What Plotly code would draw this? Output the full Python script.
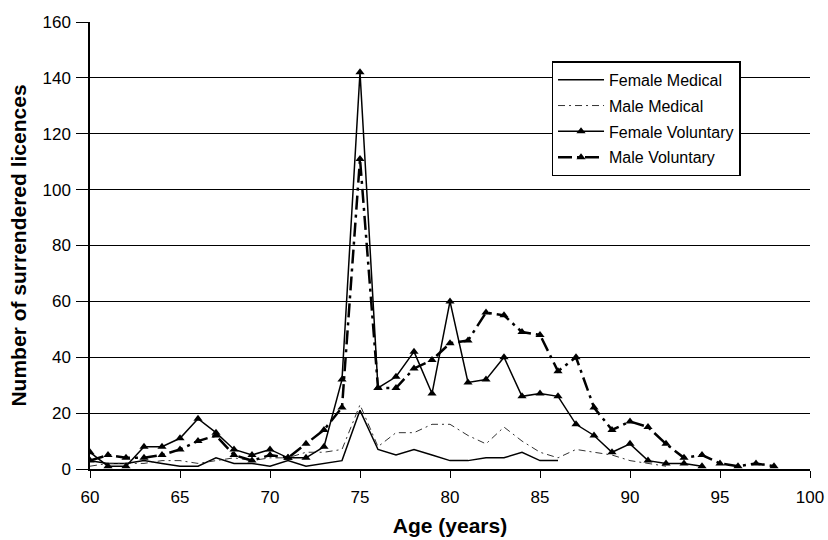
import plotly.graph_objects as go

ages_fm = list(range(60, 87))
female_medical = [3, 2, 2, 3, 2, 1, 1, 4, 2, 2, 1, 3, 1, 2, 3, 21, 7, 5, 7, 5, 3, 3, 4, 4, 6, 3, 3]

ages_mm = list(range(60, 93))
male_medical = [1, 2, 2, 2, 3, 3, 2, 3, 4, 3, 4, 4, 6, 6, 7, 23, 8, 13, 13, 16, 16, 12, 9, 15, 10,
                6, 4, 7, 6, 5, 3, 2, 1]

ages_fv = list(range(60, 95))
female_voluntary = [6, 1, 1, 8, 8, 11, 18, 13, 7, 5, 7, 4, 4, 8, 32, 142, 29, 33, 42, 27, 60, 31, 32,
                    40, 26, 27, 26, 16, 12, 6, 9, 3, 2, 2, 1]

ages_mv = list(range(60, 99))
male_voluntary = [3, 5, 4, 4, 5, 7, 10, 12, 5, 3, 5, 4, 9, 14, 22, 111, 29, 29, 36, 39, 45, 46, 56,
                  55, 49, 48, 35, 40, 22, 14, 17, 15, 9, 4, 5, 2, 1, 2, 1]

x_ticks = [60, 65, 70, 75, 80, 85, 90, 95, 100]
y_ticks = [0, 20, 40, 60, 80, 100, 120, 140, 160]

FONT = "Liberation Sans, Arial, sans-serif"

fig = go.Figure()
fig.add_trace(go.Scatter(x=ages_fm, y=female_medical, name="Female Medical", mode="lines",
                         line=dict(color="black", width=1.5), legendgroup="a"))
fig.add_trace(go.Scatter(x=ages_mm, y=male_medical, name="Male Medical", mode="lines",
                         line=dict(color="#333", width=1, dash="7px,4px,2px,4px"), legendgroup="b"))
fig.add_trace(go.Scatter(x=ages_fv, y=female_voluntary, name="Female Voluntary", mode="lines+markers",
                         line=dict(color="black", width=1.5),
                         marker=dict(symbol="triangle-up", size=8, color="black"), legendgroup="c"))
fig.add_trace(go.Scatter(x=ages_mv, y=male_voluntary, name="Male Voluntary", mode="lines+markers",
                         line=dict(color="black", width=2.5, dash="14px,5px,3px,5px"),
                         marker=dict(symbol="triangle-up", size=8, color="black"), legendgroup="d"))

fig.update_layout(
    width=828, height=540,
    margin=dict(l=90, r=18, t=22, b=71),
    paper_bgcolor="white", plot_bgcolor="white",
    font=dict(family=FONT, size=16, color="black"),
    showlegend=True,
    legend=dict(x=0.641, y=0.912, xanchor="left", yanchor="top",
                bgcolor="white", bordercolor="black", borderwidth=1.5,
                font=dict(family=FONT, size=16, color="black"),
                tracegroupgap=2, traceorder="grouped", itemwidth=46),
    xaxis=dict(range=[60, 100], tickvals=x_ticks, showgrid=False, zeroline=False,
               showline=True, linecolor="black", linewidth=1.5, automargin=False,
               ticks="outside", ticklen=7, tickcolor="black", ticklabelstandoff=5,
               title=dict(text="<b>Age (years)</b>", font=dict(family=FONT, size=21), standoff=12),
               tickfont=dict(family=FONT, size=17)),
    yaxis=dict(range=[0, 160], tickvals=y_ticks, showgrid=True, gridcolor="black", gridwidth=1.2,
               zeroline=False, showline=True, linecolor="black", linewidth=1.5, automargin=False,
               ticks="outside", ticklen=12, tickcolor="black", ticklabelstandoff=2,
               title=dict(text="<b>Number of surrendered licences</b>", font=dict(family=FONT, size=21),
                          standoff=10),
               tickfont=dict(family=FONT, size=17)),
)

fig.write_html("out.html")
